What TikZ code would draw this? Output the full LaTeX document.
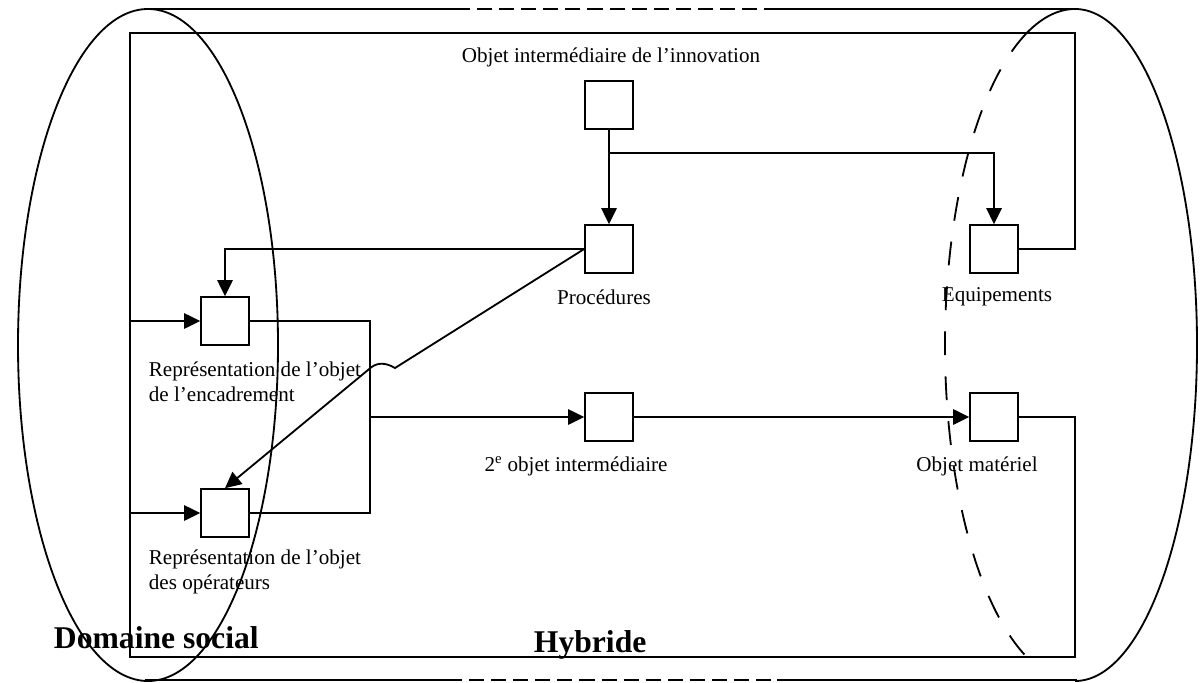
\documentclass[tikz,border=0pt]{standalone}
\usepackage{fontspec}
\setmainfont{Liberation Serif}
\usetikzlibrary{arrows.meta}

\begin{document}
\begin{tikzpicture}[x=0.025cm, y=-0.025cm, line width=1.3pt,
    objbox/.style={draw, fill=white, minimum size=34pt, inner sep=0pt},
    arr/.style={-{Triangle[length=11.5pt, width=11pt]}},
    lbl/.style={inner sep=0pt, font=\fontsize{15}{17.8}\selectfont},
    domlbl/.style={inner sep=0pt, anchor=base west, font=\fontsize{22.5}{26}\selectfont\bfseries}]

  \useasboundingbox (0,0) rectangle (1200,682);

  % Outer cylinder: social domain (left) and material side (right)
  \draw (148,345) ellipse [x radius=130, y radius=336];
  \coordinate (rc) at (1075,345);
  \draw (1075,9) arc[start angle=-90, end angle=90, x radius=122, y radius=336];
  \draw (1075,9) arc[start angle=270, end angle=248.2, x radius=130, y radius=336];
  \draw[dash pattern=on 17pt off 15pt] (rc) ++(248.2:130 and 336)
    arc[start angle=248.2, end angle=111.8, x radius=130, y radius=336];

  % Top and bottom edges
  \draw (145,9) -- (455,9);
  \draw[dash pattern=on 10.7pt off 5pt] (455,9) -- (777,9);
  \draw (777,9) -- (1075,9);
  \draw (145,680) -- (447,680);
  \draw[dash pattern=on 10.7pt off 5pt] (447,680) -- (777,680);
  \draw (777,680) -- (1077,680);

  % Objects
  \node[objbox] (innov) at (609,105) {};
  \node[objbox] (proc) at (609,249) {};
  \node[objbox] (equip) at (994,249) {};
  \node[objbox] (encad) at (225,321) {};
  \node[objbox] (oper) at (225,513) {};
  \node[objbox] (second) at (609,417) {};
  \node[objbox] (materiel) at (994,417) {};

  % Labels
  \node[lbl] (innovlbl) at (611,57) {Objet intermédiaire de l’innovation};
  \node[lbl] (proclbl) at (604,297) {Procédures};
  \node[lbl] (equiplbl) at (997,297) {Equipements};
  \node[lbl, anchor=west, align=left] (encadlbl) at (148,382)
    {Représentation de l’objet\\de l’encadrement};
  \node[lbl, anchor=west, align=left] (operlbl) at (148,572)
    {Représentation de l’objet\\des opérateurs};
  \node[lbl] (secondlbl) at (576,466) {2\textsuperscript{e} objet intermédiaire};
  \node[lbl] (materiellbl) at (977,466) {Objet matériel};
  \node[domlbl] (sociallbl) at (53,648) {Domaine social};
  \node[domlbl] (hybridlbl) at (533,652) {Hybride};

  % Frame of the hybrid zone
  \draw (equip.east) -| (1075,33) -- (130,33) -- (130,657) -- (1075,657) |- (materiel.east);

  % Flows
  \coordinate (split) at (609,153);
  \coordinate (jn) at (370,417);
  \coordinate (inA) at (130,321);
  \coordinate (inB) at (130,513);
  \draw[arr] (innov) -- (proc);
  \draw[arr] (split) -| (equip);
  \draw[arr] (proc.west) -| (encad);
  \draw[arr] (proc.west) -- (395,368) .. controls (385,362) and (376,362) .. (368,370) -- (oper.north);
  \draw[arr] (inA) -- (encad);
  \draw[arr] (inB) -- (oper);
  \draw (encad.east) -| (jn) |- (oper.east);
  \draw[arr] (jn) -- (second);
  \draw[arr] (second) -- (materiel);

\end{tikzpicture}
\end{document}
